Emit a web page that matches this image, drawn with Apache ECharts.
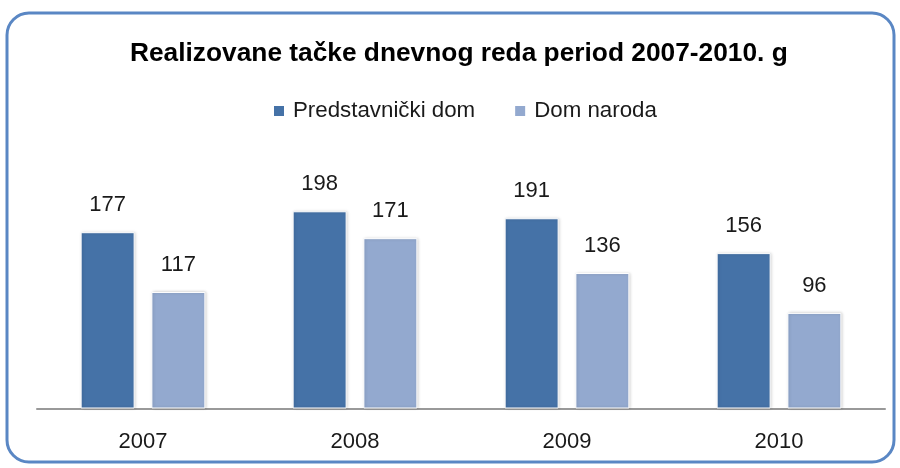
<!DOCTYPE html>
<html>
<head>
<meta charset="utf-8">
<script src="https://cdn.jsdelivr.net/npm/echarts@6/dist/echarts.min.js"></script>
<style>html,body{margin:0;padding:0;background:#fff}#c{width:900px;height:468px}</style>
</head>
<body>
<div id="c"></div>
<script>
var categories = ['2007', '2008', '2009', '2010'];
var predstavnickiDom = [177, 198, 191, 156];
var domNaroda = [117, 171, 136, 96];
var seriesNames = ['Predstavnički dom', 'Dom naroda'];
var titleText = 'Realizovane tačke dnevnog reda period 2007-2010. g';

var chart = echarts.init(document.getElementById('c'), null, {renderer: 'canvas'});
var labelStyle = {show: true, position: 'top', distance: 16, fontFamily: 'Liberation Sans', fontSize: 22, color: '#1a1a1a'};
var barStyle = function (c) {
  return {color: c, borderColor: '#ffffff', borderWidth: 1, shadowColor: 'rgba(0,0,0,0.18)', shadowBlur: 3, shadowOffsetX: 1, shadowOffsetY: 0};
};
chart.setOption({
  backgroundColor: '#ffffff',
  animation: false,
  graphic: [{
    type: 'rect',
    shape: {x: 7, y: 13, width: 887, height: 449, r: 22},
    style: {fill: 'none', stroke: '#5a87c4', lineWidth: 3},
    z: -1
  }],
  title: {
    text: titleText,
    left: 125,
    top: 36,
    textStyle: {fontFamily: 'Liberation Sans', fontWeight: 'bold', fontSize: 26.3, color: '#000'}
  },
  legend: {
    data: seriesNames,
    top: 95,
    left: 267,
    icon: 'rect',
    itemWidth: 12,
    itemHeight: 12,
    itemGap: 38,
    textStyle: {fontFamily: 'Liberation Sans', fontSize: 22.3, color: '#1a1a1a', padding: [0, 0, 0, 3]}
  },
  grid: {left: 37, right: 15, top: 159.5, bottom: 59.5},
  xAxis: {
    type: 'category',
    data: categories,
    axisLine: {lineStyle: {color: '#999999', width: 2}},
    axisTick: {show: false},
    axisLabel: {margin: 22, fontFamily: 'Liberation Sans', fontSize: 22, color: '#1a1a1a'}
  },
  yAxis: {
    type: 'value',
    min: 0,
    max: 250,
    show: false,
    splitLine: {show: false}
  },
  series: [
    {name: seriesNames[0], type: 'bar', data: predstavnickiDom, barWidth: 54, barGap: '31%', itemStyle: barStyle('#4572a7'), label: labelStyle},
    {name: seriesNames[1], type: 'bar', data: domNaroda, barWidth: 54, itemStyle: barStyle('#93a9cf'), label: labelStyle}
  ]
});
</script>
</body>
</html>
